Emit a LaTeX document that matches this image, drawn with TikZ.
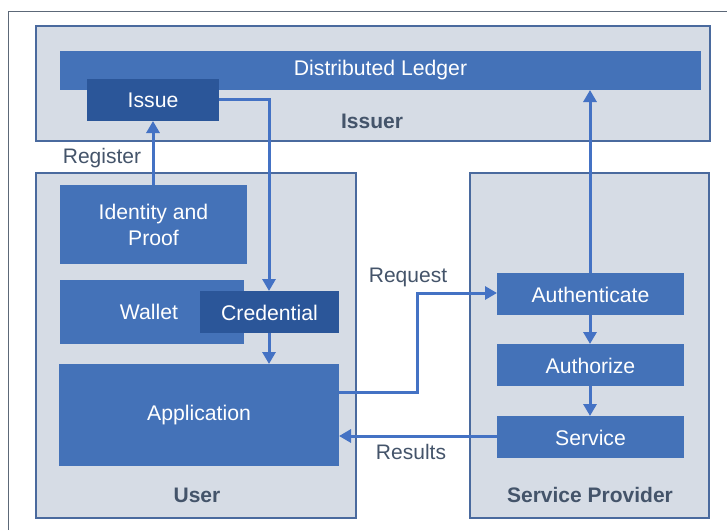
\documentclass[tikz,border=0pt]{standalone}
\usepackage{fontspec}
\setmainfont{Liberation Sans}
\usetikzlibrary{arrows.meta}
\definecolor{panel}{HTML}{D6DCE5}
\definecolor{panelborder}{HTML}{4A6A9E}
\definecolor{boxblue}{HTML}{4472B8}
\definecolor{darkblue}{HTML}{2B5699}
\definecolor{arrowblue}{HTML}{4472C4}
\definecolor{labelgray}{HTML}{44546A}
\definecolor{framegray}{HTML}{5C6878}
\tikzset{
  panelbox/.style={fill=panel, draw=panelborder, line width=1.2pt},
  boxtext/.style={text=white, font=\fontsize{21.2}{26}\selectfont, align=center},
  paneltitle/.style={text=labelgray, font=\bfseries\fontsize{21}{25}\selectfont},
  flowlabel/.style={text=labelgray, font=\fontsize{21}{25}\selectfont},
  flow/.style={draw=arrowblue, line width=3pt, -{Triangle[width=13pt,length=12pt]}},
}
\begin{document}
\begin{tikzpicture}[x=1pt,y=-1pt]
\useasboundingbox (0,0) rectangle (727,530);
\fill[white] (0,0) rectangle (727,530);
% outer frame
\draw[framegray, line width=1pt] (8.5,530) -- (8.5,11.5) -- (727,11.5);
% panels
\path[panelbox] (36,26) rectangle (710,141);
\path[panelbox] (36,173) rectangle (356,518);
\path[panelbox] (470,173) rectangle (709,518);
% issuer
\fill[boxblue] (60,51) rectangle (701,90);
\node[boxtext] (ledger) at (380.5,70.5) {Distributed Ledger};
\coordinate (ledgerS) at (590,90);
\fill[darkblue] (87,79) rectangle (219,121);
\node[boxtext] (issue) at (153,100) {Issue};
\coordinate (issueS) at (153,121);
\coordinate (issueE) at (219,99);
\node[paneltitle] (issuer) at (372,121) {Issuer};
% user
\fill[boxblue] (60,185) rectangle (247,264);
\node[boxtext] (identity) at (153.5,224.5) {Identity and\\Proof};
\coordinate (identityN) at (153,185);
\fill[boxblue] (60,280) rectangle (244,344);
\node[boxtext] (wallet) at (149,312) {Wallet};
\fill[darkblue] (200,291) rectangle (339,333);
\node[boxtext] (credential) at (269.5,312.5) {Credential};
\coordinate (credN) at (269,291);
\coordinate (credS) at (269,333);
\fill[boxblue] (59,364) rectangle (339,466);
\node[boxtext] (application) at (199,415) {Application};
\coordinate (appN) at (269,364);
\coordinate (appReq) at (339,392);
\coordinate (appRes) at (339,436);
\node[paneltitle] (user) at (197,495) {User};
% service provider
\fill[boxblue] (497,273) rectangle (684,315);
\node[boxtext] (authenticate) at (590.5,294.5) {Authenticate};
\coordinate (authnN) at (590,273);
\coordinate (authnS) at (590,315);
\coordinate (authnW) at (497,293);
\fill[boxblue] (497,344) rectangle (684,386);
\node[boxtext] (authorize) at (590.5,366) {Authorize};
\coordinate (authzN) at (590,344);
\coordinate (authzS) at (590,386);
\fill[boxblue] (497,416) rectangle (684,458);
\node[boxtext] (service) at (590.5,438) {Service};
\coordinate (serviceN) at (590,416);
\coordinate (serviceW) at (497,436);
\node[paneltitle] (sp) at (590,495) {Service Provider};
% connectors
\draw[flow] (identityN) -- (issueS);
\node[flowlabel] (register) at (102,158) {Register};
\draw[flow] (issueE) -| (credN);
\draw[flow] (credS) -- (appN);
\draw[flow] (appReq) -- (417,392) |- (authnW);
\node[flowlabel] (request) at (408,277) {Request};
\draw[flow] (serviceW) -- (appRes);
\node[flowlabel] (results) at (411,452) {Results};
\draw[flow] (authnN) -- (ledgerS);
\draw[flow] (authnS) -- (authzN);
\draw[flow] (authzS) -- (serviceN);
\end{tikzpicture}
\end{document}
